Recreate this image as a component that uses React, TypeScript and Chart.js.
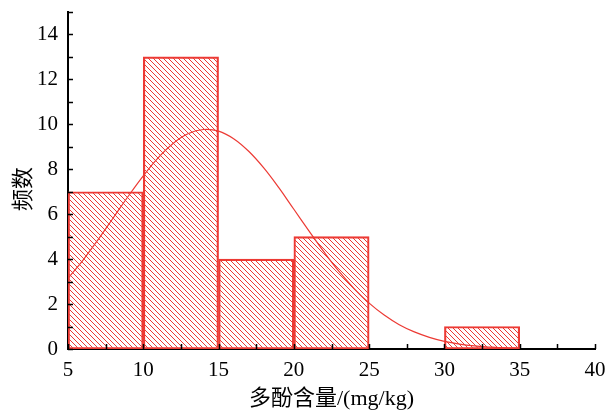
import React, { useEffect, useRef } from "react";
import { Chart, registerables } from "chart.js";

Chart.register(...registerables);

// Histogram bins (lower/upper edges) and counts
const BIN_STARTS = [5, 10, 15, 20, 25, 30];
const BIN_ENDS = [10, 15, 20, 25, 30, 35];
const COUNTS = [7, 13, 4, 5, 0, 1];

// Fitted normal curve
const CURVE_X = [5, 6, 7, 8, 9, 10, 11, 12, 13, 14, 15, 16, 17, 18, 19, 20, 21, 22, 23, 24, 25, 26, 27, 28, 29, 30, 31, 32, 33, 34, 35];
const CURVE_Y = [3.14, 3.96, 4.87, 5.83, 6.8, 7.71, 8.52, 9.16, 9.59, 9.77, 9.7, 9.36, 8.8, 8.06, 7.18, 6.22, 5.26, 4.32, 3.45, 2.69, 2.04, 1.51, 1.08, 0.76, 0.52, 0.34, 0.22, 0.14, 0.09, 0.05, 0.03];

const X_MIN = 5;
const X_MAX = 40;
const X_STEP = 5;
const Y_MIN = 0;
const Y_MAX = 15;
const Y_STEP = 1;

const X_TITLE = "多酚含量/(mg/kg)";
const Y_TITLE = "频数";

const RED = "#ec3a34";
const SERIF = "'Liberation Serif', 'Times New Roman', 'Noto Sans CJK SC', serif";

function makeHatch(): CanvasPattern | string {
  const s = 5;
  const c = document.createElement("canvas");
  c.width = s;
  c.height = s;
  const g = c.getContext("2d");
  if (!g) return "rgba(236,58,52,0.4)";
  g.strokeStyle = RED;
  g.lineWidth = 1;
  for (let k = -1; k <= 1; k++) {
    g.beginPath();
    g.moveTo(k * s, 0);
    g.lineTo(k * s + s, s);
    g.stroke();
  }
  const p = g.createPattern(c, "repeat");
  return p || "rgba(236,58,52,0.4)";
}

const decorPlugin = {
  id: "decor",
  afterDraw(chart: any) {
    const { ctx, chartArea, scales } = chart;
    const x = scales.x;
    const y = scales.y;
    ctx.save();
    ctx.strokeStyle = "#000";
    ctx.lineWidth = 1.5;
    // major + minor x ticks (inward)
    const xVals: number[] = [];
    x.ticks.forEach((t: any, i: number) => {
      xVals.push(t.value);
      if (i < x.ticks.length - 1) xVals.push((t.value + x.ticks[i + 1].value) / 2);
    });
    xVals.forEach((v) => {
      const px = Math.round(x.getPixelForValue(v)) + 0.5;
      ctx.beginPath();
      ctx.moveTo(px, chartArea.bottom);
      ctx.lineTo(px, chartArea.bottom - 5);
      ctx.stroke();
    });
    y.ticks.forEach((t: any) => {
      const py = Math.round(y.getPixelForValue(t.value)) + 0.5;
      ctx.beginPath();
      ctx.moveTo(chartArea.left, py);
      ctx.lineTo(chartArea.left + 5, py);
      ctx.stroke();
    });
    ctx.translate(22, 189);
    ctx.rotate(-Math.PI / 2);
    ctx.fillStyle = "#000";
    ctx.font = "22px 'Noto Sans CJK SC', serif";
    ctx.textAlign = "center";
    ctx.textBaseline = "middle";
    ctx.fillText(Y_TITLE, 0, 0);
    ctx.restore();
  },
};

export default function App() {
  const ref = useRef<HTMLCanvasElement | null>(null);

  useEffect(() => {
    if (!ref.current) return;
    const hatch = makeHatch();
    const chart = new Chart(ref.current, {
      type: "bar",
      data: {
        datasets: [
          {
            type: "bar",
            label: "频数",
            data: BIN_STARTS.map((s, i) => ({ x: (s + BIN_ENDS[i]) / 2, y: COUNTS[i] })),
            backgroundColor: hatch as any,
            borderColor: RED,
            borderWidth: 1.5,
            borderSkipped: false,
            barPercentage: 1,
            categoryPercentage: 1,
            order: 2,
          } as any,
          {
            type: "line",
            label: "拟合",
            data: CURVE_X.map((v, i) => ({ x: v, y: CURVE_Y[i] })),
            borderColor: RED,
            borderWidth: 1.2,
            pointRadius: 0,
            tension: 0.4,
            fill: false,
            order: 1,
          } as any,
        ],
      },
      options: {
        animation: false,
        responsive: false,
        devicePixelRatio: 1,
        layout: { padding: { top: 12, right: 11, left: 0, bottom: 0 } },
        plugins: {
          legend: { display: false },
          tooltip: { enabled: false },
        },
        scales: {
          x: {
            type: "linear",
            min: X_MIN,
            max: X_MAX,
            offset: false,
            ticks: {
              stepSize: X_STEP,
              autoSkip: false,
              maxRotation: 0,
              color: "#000",
              padding: 9,
              font: { family: SERIF, size: 21 },
            },
            grid: { display: false, drawTicks: false },
            border: { display: true, color: "#000", width: 2 },
            title: {
              display: true,
              text: X_TITLE,
              color: "#000",
              padding: { top: 0, bottom: 0 },
              font: { family: SERIF, size: 22, lineHeight: 1 },
            },
            afterFit: (s: any) => {
              s.height = 61;
              s.paddingLeft = 0;
              s.paddingRight = 0;
            },
          },
          y: {
            type: "linear",
            min: Y_MIN,
            max: Y_MAX,
            ticks: {
              stepSize: Y_STEP,
              autoSkip: false,
              color: "#000",
              padding: 10,
              font: { family: SERIF, size: 21 },
              callback: (v: any) => (Number(v) % 2 === 0 ? String(v) : ""),
            },
            grid: { display: false, drawTicks: false },
            border: { display: true, color: "#000", width: 2 },
            afterFit: (s: any) => {
              s.width = 68;
              s.paddingTop = 0;
              s.paddingBottom = 0;
            },
          },
        },
      } as any,
      plugins: [decorPlugin],
    });
    return () => chart.destroy();
  }, []);

  return (
    <div style={{ position: "fixed", left: 0, top: 0, width: 606, height: 410, background: "#fff" }}>
      <canvas ref={ref} width={606} height={410} style={{ display: "block" }} />
    </div>
  );
}
